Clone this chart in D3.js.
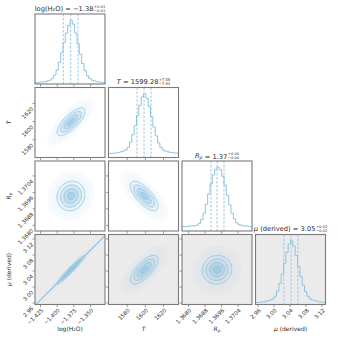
<!DOCTYPE html>
<html><head><meta charset="utf-8">
<script src="https://cdn.jsdelivr.net/npm/d3@7"></script>
<style>
body{margin:0;background:#fff}
svg{opacity:0.999}
text, tspan{font-family:"DejaVu Sans",sans-serif;fill:#2b2b2b}
</style>
</head><body><div id="corner"></div>
<script>
// parameters and their ranges
const names = ["log(H₂O)", "T", "R_p", "μ (derived)"];
const domains = [[-1.4325, -1.3275], [1560, 1637], [1.3677, 1.3711], [2.955, 3.13]];
const ticks = [[-1.425, -1.400, -1.375, -1.350], [1580, 1600, 1620], [1.3680, 1.3688, 1.3696, 1.3704], [2.96, 3.00, 3.04, 3.08, 3.12]];
const tickFmt = [".3f", ".0f", ".4f", ".2f"];

// 1D histograms (relative counts, 30 bins over the range)
const histLogH2O = [0.02,0.02,0.03,0.03,0.04,0.05,0.06,0.09,0.14,0.22,0.34,0.49,0.65,0.80,0.92,1.00,0.94,0.80,0.63,0.47,0.32,0.21,0.13,0.09,0.06,0.05,0.04,0.03,0.03,0.02];
const histT = [0.06,0.06,0.07,0.07,0.08,0.09,0.10,0.12,0.16,0.24,0.36,0.50,0.66,0.82,0.95,1.00,0.93,0.80,0.64,0.48,0.34,0.23,0.16,0.12,0.10,0.09,0.08,0.08,0.07,0.07];
const histRp = [0.07,0.07,0.07,0.08,0.08,0.08,0.09,0.12,0.18,0.28,0.42,0.58,0.74,0.88,0.97,1.00,0.96,0.86,0.72,0.56,0.41,0.28,0.19,0.13,0.10,0.09,0.08,0.08,0.07,0.07];
const histMu = [0.03,0.03,0.04,0.04,0.05,0.06,0.07,0.09,0.13,0.21,0.33,0.48,0.65,0.82,0.95,1.00,0.92,0.77,0.60,0.44,0.30,0.20,0.13,0.09,0.07,0.06,0.05,0.04,0.04,0.03];
const hists = [histLogH2O, histT, histRp, histMu];

// 16/50/84 percent quantiles
const quantiles = [[-1.390, -1.379, -1.368], [1591.4, 1599.1, 1606.8], [1.36911, 1.36940, 1.36974], [3.026, 3.044, 3.061]];
const titleVal = ["−1.38", "1599.28", "1.37", "3.05"];
const titleUp = ["+0.01", "+7.58", "+0.00", "+0.02"];
const titleDn = ["−0.01", "−7.83", "−0.00", "−0.02"];

// 2D posterior shape: centre, spread and correlation
const centers = [-1.3785, 1599.3, 1.3694, 3.042];
const sigmas = [0.0105, 7.7, 0.00036, 0.018];
const rho = {"1-0": 0.75, "2-0": 0.1, "3-0": 0.97, "2-1": -0.7, "3-1": 0.7, "3-2": 0.05};
const muLine = [[-1.4325, 2.953], [-1.3275, 3.127]];
const levels = [2, 1.5, 1, 0.5];
const levelOpacity = [0.1, 0.2, 0.3, 0.45];

const blue = "#8ec3e0";
const ink = "#2b2b2b";
const gridLeft = 35, gridTop = 14, size = 70, gap = 3.5;
const n = names.length;

const svg = d3.select("#corner").append("svg")
    .attr("width", 340).attr("height", 340);

function colX(i) { return gridLeft + i * (size + gap); }
function rowY(i) { return gridTop + i * (size + gap); }

// write a parameter name with italics and subscript where needed
function writeName(sel, i) {
    sel.attr("fill", ink);
    if (i === 0) { sel.append("tspan").attr("fill", ink).text(names[0]); }
    else if (i === 1) { sel.append("tspan").attr("fill", ink).style("font-style", "italic").text("T"); }
    else if (i === 2) {
        sel.append("tspan").attr("fill", ink).style("font-style", "italic").text("R");
        sel.append("tspan").attr("fill", ink).style("font-style", "italic").attr("font-size", "0.7em").attr("dy", "0.25em").text("p");
        sel.append("tspan").attr("fill", ink).attr("dy", "-0.25em").text("");
    }
    else {
        sel.append("tspan").attr("fill", ink).style("font-style", "italic").text("μ");
        sel.append("tspan").attr("fill", ink).text(" (derived)");
    }
}

for (let r = 0; r < n; r++) {
    for (let c = 0; c <= r; c++) {
        const g = svg.append("g").attr("transform", `translate(${colX(c)},${rowY(r)})`);
        const x = d3.scaleLinear().domain(domains[c]).range([0, size]);

        g.append("rect").attr("width", size).attr("height", size)
            .attr("fill", r === n - 1 ? "#ebebeb" : "#fff");

        const clipId = `clip${r}${c}`;
        g.append("clipPath").attr("id", clipId).append("rect").attr("width", size).attr("height", size);
        const inner = g.append("g").attr("clip-path", `url(#${clipId})`);

        if (r === c) {
            const h = hists[c];
            const y = d3.scaleLinear().domain([0, 1.1]).range([size, 0]);
            const edges = d3.range(h.length + 1).map(k => domains[c][0] + k * (domains[c][1] - domains[c][0]) / h.length);
            const pts = edges.map((e, k) => [e, h[Math.min(k, h.length - 1)]]);
            inner.append("path").datum(pts)
                .attr("fill", "none").attr("stroke", blue).attr("stroke-width", 1)
                .attr("d", d3.line().x(d => x(d[0])).y(d => y(d[1])).curve(d3.curveStepAfter));
            inner.selectAll("line.q").data(quantiles[c]).join("line")
                .attr("x1", d => x(d)).attr("x2", d => x(d)).attr("y1", 0).attr("y2", size)
                .attr("stroke", blue).attr("stroke-width", 0.9).attr("stroke-dasharray", "2.5,1.5");
        } else {
            const y = d3.scaleLinear().domain(domains[r]).range([size, 0]);
            const p = rho[`${r}-${c}`];
            const ell = k => d3.range(0, 2 * Math.PI + 0.01, 0.05).map(t => [
                centers[c] + sigmas[c] * k * Math.cos(t),
                centers[r] + sigmas[r] * k * (p * Math.cos(t) + Math.sqrt(1 - p * p) * Math.sin(t))
            ]);
            const line = d3.line().x(d => x(d[0])).y(d => y(d[1]));
            // faint cloud of samples
            inner.append("path").attr("d", line(ell(3.4))).attr("fill", blue).attr("fill-opacity", 0.06);
            inner.append("path").attr("d", line(ell(2.7))).attr("fill", blue).attr("fill-opacity", 0.05);
            if (r === 3 && c === 0) {
                inner.append("path").attr("d", line(muLine))
                    .attr("stroke", blue).attr("stroke-width", 1.2).attr("fill", "none");
            }
            levels.forEach((k, li) => {
                inner.append("path").attr("d", line(ell(k)))
                    .attr("fill", blue).attr("fill-opacity", levelOpacity[li])
                    .attr("stroke", blue).attr("stroke-width", 0.8);
            });
            // y ticks
            const ya = g.append("g").call(d3.axisLeft(y).tickValues(ticks[r]).tickSize(2.5)
                .tickFormat(c === 0 ? d3.format(tickFmt[r]) : ""));
            ya.select(".domain").remove();
            ya.selectAll("line").attr("stroke", "#555").attr("stroke-width", 0.6);
            ya.selectAll("text").attr("font-size", 5.5).attr("fill", ink)
                .attr("transform", "rotate(-45)").attr("dx", "0.1em").attr("dy", "0.6em")
                .style("text-anchor", "end").style("font-family", "DejaVu Sans");
        }

        // x ticks
        const xa = g.append("g").attr("transform", `translate(0,${size})`)
            .call(d3.axisBottom(x).tickValues(ticks[c]).tickSize(2.5)
                .tickFormat(r === n - 1 ? d3.format(tickFmt[c]) : ""));
        xa.select(".domain").remove();
        xa.selectAll("line").attr("stroke", "#555").attr("stroke-width", 0.6);
        xa.selectAll("text").attr("font-size", 5.5).attr("fill", ink)
            .attr("transform", "rotate(-45)").attr("dx", "-0.4em").attr("dy", "0.2em")
            .style("text-anchor", "end").style("font-family", "DejaVu Sans");

        g.append("rect").attr("width", size).attr("height", size)
            .attr("fill", "none").attr("stroke", "#7a7a7a").attr("stroke-width", 1.1);
    }
}

// bottom axis labels
for (let c = 0; c < n; c++) {
    const t = svg.append("text").attr("x", colX(c) + size / 2).attr("y", 331)
        .attr("text-anchor", "middle").attr("font-size", 6);
    writeName(t, c);
}
// left axis labels
for (let r = 1; r < n; r++) {
    const t = svg.append("text")
        .attr("transform", `translate(11,${rowY(r) + size / 2}) rotate(-90)`)
        .attr("text-anchor", "middle").attr("font-size", 6);
    writeName(t, r);
}

// titles above the diagonal
for (let i = 0; i < n; i++) {
    const g = svg.append("g");
    const t = g.append("text").attr("y", rowY(i) - 3.5).attr("font-size", 6.7);
    writeName(t, i);
    t.append("tspan").attr("fill", ink).text(" = " + titleVal[i]);
    const w = t.node().getComputedTextLength();
    const up = g.append("text").attr("x", w + 0.5).attr("y", rowY(i) - 6.3).attr("font-size", 3.7).attr("fill", ink).text(titleUp[i]);
    const dn = g.append("text").attr("x", w + 0.5).attr("y", rowY(i) - 2.3).attr("font-size", 3.7).attr("fill", ink).text(titleDn[i]);
    const total = w + 0.5 + Math.max(up.node().getComputedTextLength(), dn.node().getComputedTextLength());
    g.attr("transform", `translate(${colX(i) + size / 2 - total / 2},0)`);
}
</script>
</body></html>
